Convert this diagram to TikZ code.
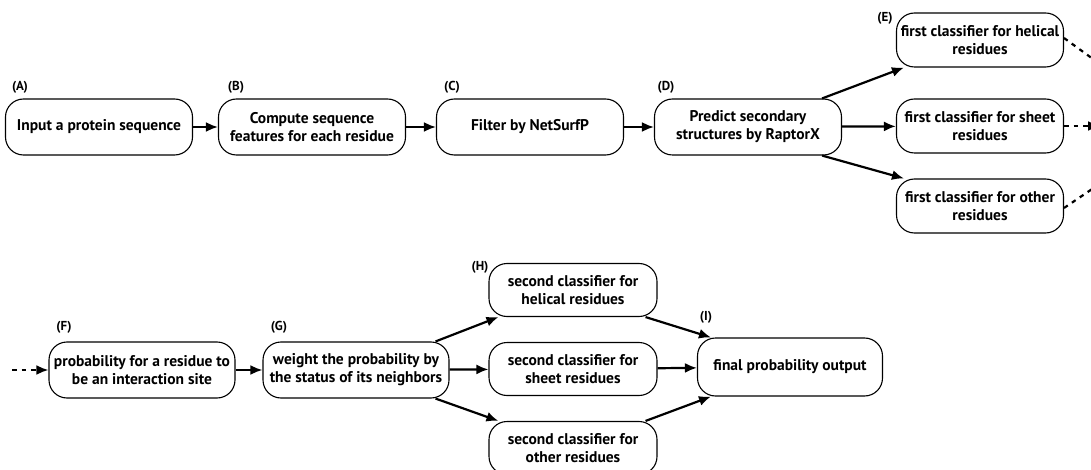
\documentclass[tikz,border=0pt]{standalone}
\usepackage{fontspec}
\setmainfont{PT Sans}
\usetikzlibrary{arrows.meta}
\begin{document}
\begin{tikzpicture}[x=1pt,y=-1pt,
  box/.style={draw,line width=1.1pt,rounded corners=18pt,minimum width=187pt,minimum height=56pt,align=center,font=\bfseries\fontsize{15.5}{18}\selectfont,inner sep=2pt},
  ebox/.style={box,minimum width=167pt,minimum height=54pt},
  sbox/.style={box,minimum width=168pt,minimum height=53pt},
  lab/.style={font=\bfseries\fontsize{13}{15}\selectfont,inner sep=0pt},
  arr/.style={line width=2.2pt,-{Latex[length=12pt,width=10pt]}},
  darr/.style={arr,dash pattern=on 4.5pt off 5pt}]
\useasboundingbox (0,0) rectangle (1091,470);
% top row
\node[box] (A) at (99,127) {Input a protein sequence};
\node[box] (B) at (312,127) {Compute sequence\\features for each residue};
\node[box] (C) at (530,127) {Filter by NetSurfP};
\node[box] (D) at (748,127) {Predict secondary\\structures by RaptorX};
\node[ebox] (E1) at (980,40) {first classifier for helical\\residues};
\node[ebox] (E2) at (980,126) {first classifier for sheet\\residues};
\node[ebox] (E3) at (980,206) {first classifier for other\\residues};
\node[lab] (lA) at (20,87) {(A)};
\node[lab] (lB) at (236,87) {(B)};
\node[lab] (lC) at (452,87) {(C)};
\node[lab] (lD) at (666,87) {(D)};
\node[lab] (lE) at (885,18) {(E)};
% bottom row
\node[box,minimum width=186pt] (F) at (142,370) {probability for a residue to\\be an interaction site};
\node[box,minimum width=186pt] (G) at (356,370) {weight the probability by\\the status of its neighbors};
\node[sbox] (H1) at (573,290) {second classifier for\\helical residues};
\node[sbox] (H2) at (573,369) {second classifier for\\sheet residues};
\node[sbox] (H3) at (573,448) {second classifier for\\other residues};
\node[box,minimum width=185pt,minimum height=58pt] (I) at (790,367) {final probability output};
\node[lab] (lF) at (64,327) {(F)};
\node[lab] (lG) at (279,327) {(G)};
\node[lab] (lH) at (480,267) {(H)};
\node[lab] (lI) at (706,317) {(I)};
% coordinates for free ends
\coordinate (e1s) at (1064,38);
\coordinate (e1o) at (1104,67);
\coordinate (e2o) at (1100,126);
\coordinate (e3s) at (1064,208);
\coordinate (e3o) at (1104,181);
\coordinate (fin) at (12,370);
% arrows
\draw[arr] (A) -- (B);
\draw[arr] (B) -- (C);
\draw[arr] (C) -- (D);
\draw[arr] ([xshift=-20pt]D.north east) -- ([xshift=8pt]E1.south west);
\draw[arr] (D) -- (E2);
\draw[arr] ([xshift=-20pt]D.south east) -- ([xshift=8pt]E3.north west);
\draw[darr] (e1s) -- (e1o);
\draw[darr] (E2.east) -- (e2o);
\draw[darr] (e3s) -- (e3o);
\draw[darr] (fin) -- (F);
\draw[arr] (F) -- (G);
\draw[arr] ([xshift=-14pt]G.north east) -- ([xshift=10pt]H1.south west);
\draw[arr] (G) -- (H2);
\draw[arr] ([xshift=-14pt]G.south east) -- ([xshift=10pt]H3.north west);
\draw[arr] ([xshift=-12pt]H1.south east) -- ([xshift=14pt]I.north west);
\draw[arr] (H2) -- (I);
\draw[arr] ([xshift=-12pt]H3.north east) -- ([xshift=14pt]I.south west);
\end{tikzpicture}
\end{document}
